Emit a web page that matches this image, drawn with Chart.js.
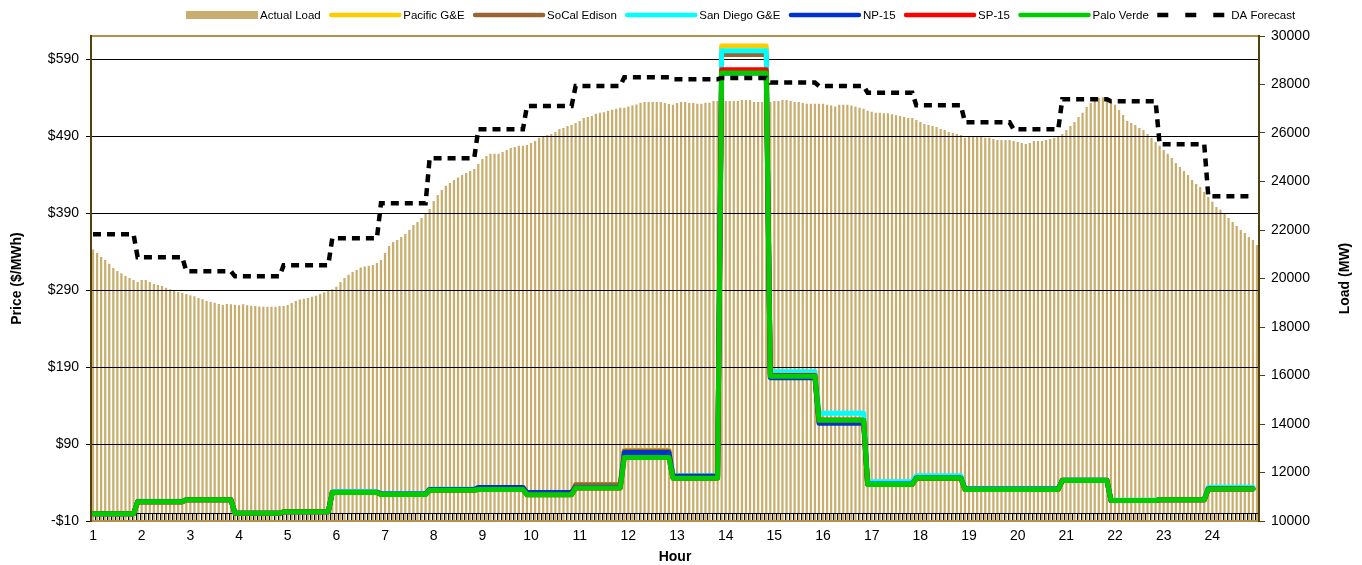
<!DOCTYPE html>
<html>
<head>
<meta charset="utf-8">
<script src="https://cdn.jsdelivr.net/npm/chart.js@4.4.0/dist/chart.umd.min.js"></script>
<style>
  html, body { margin: 0; padding: 0; background: #fff; }
</style>
</head>
<body>
<canvas id="priceChart" width="1362" height="565"></canvas>
<script>
// hour labels on the category axis (one every 12 five-minute intervals)
const hours = ['1', '2', '3', '4', '5', '6', '7', '8', '9', '10', '11', '12',
               '13', '14', '15', '16', '17', '18', '19', '20', '21', '22', '23', '24'];
const intervalsPerHour = 12;

const priceTicks = [-10, 90, 190, 290, 390, 490, 590];
const loadTicks = [10000, 12000, 14000, 16000, 18000, 20000, 22000, 24000, 26000, 28000, 30000];

// actual load, MW, every 5 minutes
const actualLoad = [
  21200, 21050, 20890, 20760, 20610, 20430, 20310, 20220, 20100, 20020, 19940, 19860,
  19940, 19940, 19860, 19770, 19730, 19690, 19620, 19560, 19510, 19440, 19400, 19360,
  19310, 19270, 19200, 19140, 19070, 19030, 19000, 18950, 18910, 18950, 18940, 18920,
  18900, 18940, 18900, 18880, 18870, 18850, 18830, 18830, 18830, 18840, 18870, 18870,
  18910, 18990, 19070, 19130, 19160, 19200, 19250, 19290, 19360, 19430, 19500, 19560,
  19660, 19860, 20020, 20150, 20270, 20350, 20450, 20490, 20530, 20560, 20640, 20760,
  21050, 21340, 21510, 21590, 21710, 21840, 22000, 22210, 22330, 22500, 22660, 22870,
  23200, 23440, 23650, 23820, 23940, 24060, 24170, 24270, 24350, 24430, 24520, 24720,
  24930, 25050, 25140, 25140, 25140, 25220, 25300, 25380, 25420, 25470, 25470, 25510,
  25590, 25670, 25800, 25880, 25920, 25960, 26040, 26170, 26210, 26290, 26330, 26410,
  26500, 26620, 26660, 26700, 26790, 26830, 26860, 26920, 26960, 27000, 27040, 27040,
  27090, 27130, 27180, 27250, 27280, 27280, 27280, 27280, 27280, 27240, 27200, 27160,
  27240, 27280, 27280, 27240, 27240, 27210, 27210, 27250, 27250, 27320, 27320, 27320,
  27320, 27320, 27320, 27320, 27360, 27360, 27360, 27280, 27280, 27280, 27280, 27280,
  27320, 27320, 27360, 27360, 27320, 27280, 27280, 27240, 27210, 27210, 27210, 27210,
  27210, 27170, 27130, 27090, 27170, 27170, 27170, 27130, 27090, 27040, 27000, 26920,
  26880, 26840, 26840, 26810, 26810, 26770, 26730, 26700, 26660, 26620, 26620, 26540,
  26450, 26370, 26330, 26290, 26250, 26170, 26120, 26040, 26000, 25960, 25920, 25800,
  25840, 25840, 25840, 25840, 25800, 25800, 25750, 25710, 25710, 25710, 25710, 25670,
  25630, 25590, 25550, 25590, 25670, 25670, 25670, 25710, 25750, 25800, 25880, 25960,
  26120, 26290, 26450, 26660, 26830, 27070, 27240, 27360, 27440, 27470, 27440, 27320,
  27160, 26950, 26740, 26500, 26410, 26330, 26210, 26120, 25960, 25800, 25630, 25470,
  25300, 25140, 24970, 24760, 24600, 24430, 24270, 24060, 23900, 23770, 23570, 23360,
  23160, 22950, 22830, 22660, 22500, 22330, 22170, 22000, 21880, 21710, 21590, 21380
];

// day-ahead forecast, MW, hourly
const daForecast = [21820, 20880, 20300, 20090, 20550, 21660, 23100, 24960, 26150, 27110, 27940, 28300,
                    28220, 28270, 28080, 27940, 27660, 27140, 26440, 26150, 27390, 27310, 25540, 23390];

// hourly prices, $/MWh
const pacificGE   = [-0.5, 15, 17.5, 0, 2, 27.5, 25, 31, 33.5, 26.5, 37.5, 82, 48.8, 607, 180, 121, 38, 46, 31.5, 31.5, 43, 16.5, 17.5, 32];
const socalEdison = [-0.5, 15, 17.5, 0, 2, 27.5, 25, 31, 33.5, 26.5, 37, 81, 48.5, 596, 180, 121, 38, 46, 31.5, 31.5, 43, 16.5, 17.5, 32];
const sanDiegoGE  = [-0.5, 15.5, 18, 0, 2, 28, 25.5, 31.5, 33.5, 26.5, 34, 78.5, 48.8, 601, 184, 130, 41, 48.8, 32, 32, 43, 17, 18, 34];
const np15        = [-0.5, 15, 17.5, 0, 2, 27.5, 25, 31, 33.5, 27, 34, 79, 48, 572, 176, 117, 38, 46, 31.5, 31.5, 43, 16.5, 17.5, 32];
const sp15        = [-0.5, 15, 17.5, 0, 2, 27, 24.5, 30, 31, 24, 33, 72.5, 45.5, 576, 179, 121, 37.5, 45.5, 31, 31, 42.5, 16.5, 17.5, 31.5];
const paloVerde   = [-0.5, 15, 17.5, 0, 2, 27, 24.5, 30, 31, 24, 33, 72.5, 45.5, 572, 178, 121, 37.5, 45.5, 31, 31, 42.5, 16.5, 17.5, 31.5];

const FONT = 'Arial, "Liberation Sans", sans-serif';
const loadColor = '#C9AD6C';

// 5-minute category labels: the hour on the first interval of each hour
const labels = [];
hours.forEach(h => {
    for (let i = 0; i < intervalsPerHour; i++) labels.push(i === 0 ? h : '');
});

// spread an hourly series over the 5-minute intervals (value changes one interval before the hour mark)
function toIntervals(hourly) {
    return labels.map((_, k) => k === labels.length - 1 ? null : hourly[Math.floor((k + 1) / intervalsPerHour)]);
}

function priceLine(label, values, color, order) {
    return {
        type: 'line',
        label: label,
        data: toIntervals(values),
        yAxisID: 'y',
        borderColor: color,
        backgroundColor: color,
        borderWidth: 5,
        pointRadius: 0,
        borderJoinStyle: 'round',
        borderCapStyle: 'round',
        spanGaps: false,
        order: order
    };
}

// gridlines and the $0 crossing axis go on top of the load bars, under the price lines
const overBars = {
    id: 'overBars',
    afterDatasetDraw(chart, args) {
        if (args.index !== 0) return;
        const { ctx, chartArea, scales } = chart;
        ctx.save();
        ctx.lineWidth = 1;
        ctx.strokeStyle = '#000';
        priceTicks.slice(1).forEach(v => {
            const y = Math.round(scales.y.getPixelForValue(v)) + 0.5;
            ctx.beginPath();
            ctx.moveTo(chartArea.left, y);
            ctx.lineTo(chartArea.right, y);
            ctx.stroke();
        });
        const y0 = Math.round(scales.y.getPixelForValue(0)) + 0.5;
        ctx.beginPath();
        ctx.moveTo(chartArea.left, y0);
        ctx.lineTo(chartArea.right, y0);
        const step = (chartArea.right - chartArea.left) / labels.length;
        for (let k = 0; k <= labels.length; k++) {
            const x = Math.round(chartArea.left + k * step) + 0.5;
            ctx.moveTo(x, y0);
            ctx.lineTo(x, chartArea.bottom);
        }
        ctx.stroke();
        ctx.restore();
    },
    afterDatasetsDraw(chart) {
        const { ctx, chartArea } = chart;
        ctx.save();
        ctx.lineWidth = 2;
        ctx.strokeStyle = '#B4914B';
        ctx.beginPath();
        ctx.moveTo(chartArea.left, chartArea.top);
        ctx.lineTo(chartArea.right, chartArea.top);
        ctx.moveTo(chartArea.left, chartArea.bottom);
        ctx.lineTo(chartArea.right, chartArea.bottom);
        ctx.stroke();
        ctx.strokeStyle = '#52400F';
        ctx.beginPath();
        ctx.moveTo(chartArea.left, chartArea.top - 1);
        ctx.lineTo(chartArea.left, chartArea.bottom + 1);
        ctx.moveTo(chartArea.right, chartArea.top - 1);
        ctx.lineTo(chartArea.right, chartArea.bottom + 1);
        ctx.stroke();
        ctx.restore();
    }
};

// legend row across the top, and the secondary axis title reading upwards like the primary one
const topLegend = {
    id: 'topLegend',
    afterDraw(chart) {
        const ctx = chart.ctx;
        const y = 15;
        let x = 186;
        ctx.save();
        ctx.font = '11.5px ' + FONT;
        ctx.textBaseline = 'middle';
        ctx.textAlign = 'left';
        chart.data.datasets.forEach(ds => {
            if (ds.type === 'bar') {
                ctx.fillStyle = ds.backgroundColor;
                ctx.fillRect(x, y - 4, 72, 8);
            } else if (ds.borderDash) {
                ctx.strokeStyle = ds.borderColor;
                ctx.lineWidth = 4.5;
                ctx.lineCap = 'butt';
                ctx.setLineDash([11, 17]);
                ctx.beginPath();
                ctx.moveTo(x, y);
                ctx.lineTo(x + 72, y);
                ctx.stroke();
                ctx.setLineDash([]);
            } else {
                ctx.strokeStyle = ds.borderColor;
                ctx.lineWidth = 4.5;
                ctx.lineCap = 'round';
                ctx.beginPath();
                ctx.moveTo(x + 2, y);
                ctx.lineTo(x + 70, y);
                ctx.stroke();
            }
            x += 74;
            ctx.fillStyle = '#000';
            ctx.fillText(ds.label, x, y + 1);
            x += ctx.measureText(ds.label).width + 8.5;
        });

        const area = chart.chartArea;
        ctx.translate(1345, (area.top + area.bottom) / 2);
        ctx.rotate(-Math.PI / 2);
        ctx.font = 'bold 14px ' + FONT;
        ctx.textAlign = 'center';
        ctx.fillText('Load (MW)', 0, 0);
        ctx.restore();
    }
};

const ctx = document.getElementById('priceChart').getContext('2d');
new Chart(ctx, {
    data: {
        labels: labels,
        datasets: [
            {
                type: 'bar',
                label: 'Actual Load',
                data: actualLoad,
                yAxisID: 'y1',
                backgroundColor: loadColor,
                borderWidth: 0,
                barPercentage: 0.55,
                categoryPercentage: 1,
                order: 10
            },
            priceLine('Pacific G&E', pacificGE, '#FFCC00', 7),
            priceLine('SoCal Edison', socalEdison, '#996633', 6),
            priceLine('San Diego G&E', sanDiegoGE, '#00FFFF', 5),
            priceLine('NP-15', np15, '#0033CC', 4),
            priceLine('SP-15', sp15, '#FF0000', 3),
            priceLine('Palo Verde', paloVerde, '#00CC00', 2),
            {
                type: 'line',
                label: 'DA Forecast',
                data: toIntervals(daForecast),
                yAxisID: 'y1',
                borderColor: '#000',
                borderWidth: 4.5,
                borderDash: [8, 6],
                borderCapStyle: 'butt',
                pointRadius: 0,
                order: 1
            }
        ]
    },
    options: {
        responsive: false,
        animation: false,
        layout: { padding: { top: 36, left: 0, right: 0, bottom: 0 } },
        plugins: {
            legend: { display: false },
            tooltip: { enabled: false }
        },
        scales: {
            x: {
                type: 'category',
                grid: { display: false, drawTicks: false },
                border: { display: false },
                ticks: {
                    autoSkip: false,
                    maxRotation: 0,
                    minRotation: 0,
                    padding: 7,
                    color: '#000',
                    font: { family: FONT, size: 14 }
                },
                title: {
                    display: true,
                    text: 'Hour',
                    color: '#000',
                    font: { family: FONT, size: 14, weight: 'bold' },
                    padding: { top: 0, bottom: -1 }
                },
                afterFit(scale) { scale.height = 44; }
            },
            y: {
                position: 'left',
                min: -10,
                max: 620,
                afterBuildTicks(scale) { scale.ticks = priceTicks.map(v => ({ value: v })); },
                grid: { drawOnChartArea: false, tickLength: 5, color: '#000' },
                border: { display: false },
                ticks: {
                    padding: 7,
                    color: '#000',
                    font: { family: FONT, size: 14 },
                    callback: v => (v < 0 ? '-$' : '$') + Math.abs(v)
                },
                title: {
                    display: true,
                    text: 'Price ($/MWh)',
                    color: '#000',
                    font: { family: FONT, size: 14, weight: 'bold' },
                    padding: { top: 8.6, bottom: 0 }
                },
                afterFit(scale) { scale.width = 91; }
            },
            y1: {
                position: 'right',
                min: loadTicks[0],
                max: loadTicks[loadTicks.length - 1],
                afterBuildTicks(scale) { scale.ticks = loadTicks.map(v => ({ value: v })); },
                grid: { drawOnChartArea: false, tickLength: 6, color: '#52400F' },
                border: { display: false },
                ticks: {
                    padding: 6,
                    color: '#000',
                    font: { family: FONT, size: 14 },
                    callback: v => String(v)
                },
                afterFit(scale) { scale.width = 103; }
            }
        }
    },
    plugins: [overBars, topLegend]
});
</script>
</body>
</html>
